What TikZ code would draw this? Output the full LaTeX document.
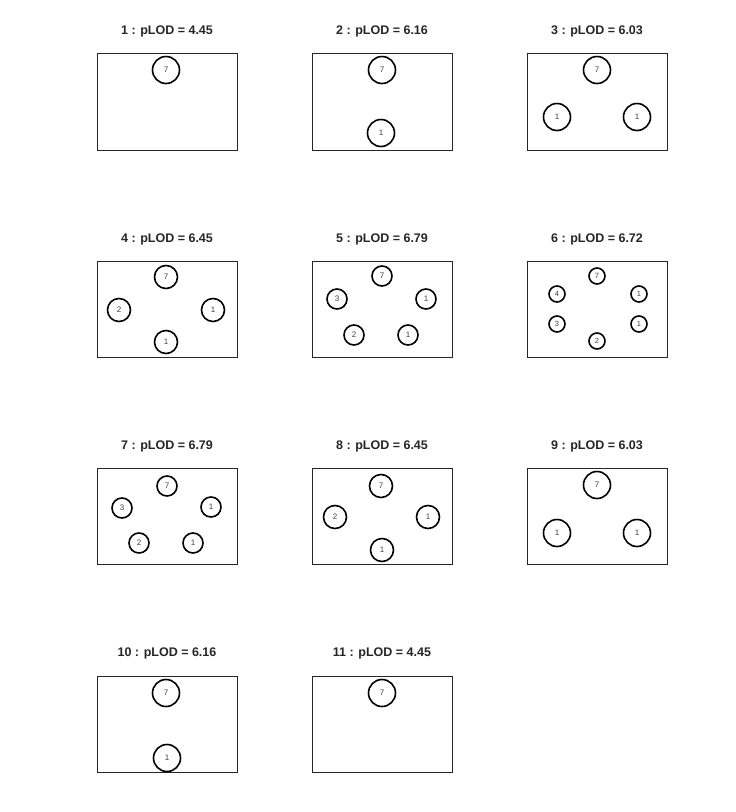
\documentclass[tikz,border=0pt]{standalone}
\usepackage{fontspec}
\setmainfont{Liberation Sans}
\begin{document}
\begin{tikzpicture}[x=1pt,y=-1pt,
  panel/.style={draw=black!85,line width=0.8pt},
  ttl/.style={font=\bfseries\fontsize{12.5}{14}\selectfont,text=black!85},
  big/.style={circle,draw=black,line width=1.6pt,minimum size=27pt,inner sep=0pt,font=\fontsize{8}{9}\selectfont,text=black!75},
  mid/.style={big,minimum size=23pt},
  sml/.style={big,minimum size=20pt},
  tin/.style={big,minimum size=16pt,font=\fontsize{7.5}{8}\selectfont}]
\useasboundingbox (0,0) rectangle (736,812);
% row 1
\node[ttl] (t1) at (167,31) {1 : pLOD = 4.45};
\draw[panel] (97,53) rectangle (237,150);
\node[big] (p1a) at (166,70) {7};
\node[ttl] (t2) at (382,31) {2 : pLOD = 6.16};
\draw[panel] (312,53) rectangle (452,150);
\node[big] (p2a) at (382,70) {7};
\node[big] (p2b) at (381,133) {1};
\node[ttl] (t3) at (597,31) {3 : pLOD = 6.03};
\draw[panel] (527,53) rectangle (667,150);
\node[big] (p3a) at (597,70) {7};
\node[big] (p3b) at (557,117) {1};
\node[big] (p3c) at (637,117) {1};
% row 2
\node[ttl] (t4) at (167,239) {4 : pLOD = 6.45};
\draw[panel] (97,261) rectangle (237,357);
\node[mid] (p4a) at (166,277) {7};
\node[mid] (p4b) at (119,310) {2};
\node[mid] (p4c) at (213,310) {1};
\node[mid] (p4d) at (166,342) {1};
\node[ttl] (t5) at (382,239) {5 : pLOD = 6.79};
\draw[panel] (312,261) rectangle (452,357);
\node[sml] (p5a) at (382,276) {7};
\node[sml] (p5b) at (337,299) {3};
\node[sml] (p5c) at (426,299) {1};
\node[sml] (p5d) at (354,335) {2};
\node[sml] (p5e) at (408,335) {1};
\node[ttl] (t6) at (597,239) {6 : pLOD = 6.72};
\draw[panel] (527,261) rectangle (667,357);
\node[tin] (p6a) at (597,276) {7};
\node[tin] (p6b) at (557,294) {4};
\node[tin] (p6c) at (639,294) {1};
\node[tin] (p6d) at (557,324) {3};
\node[tin] (p6e) at (639,324) {1};
\node[tin] (p6f) at (597,341) {2};
% row 3
\node[ttl] (t7) at (167,446) {7 : pLOD = 6.79};
\draw[panel] (97,468) rectangle (237,564);
\node[sml] (p7a) at (167,486) {7};
\node[sml] (p7b) at (122,508) {3};
\node[sml] (p7c) at (211,507) {1};
\node[sml] (p7d) at (139,543) {2};
\node[sml] (p7e) at (193,543) {1};
\node[ttl] (t8) at (382,446) {8 : pLOD = 6.45};
\draw[panel] (312,468) rectangle (452,564);
\node[mid] (p8a) at (381,486) {7};
\node[mid] (p8b) at (335,517) {2};
\node[mid] (p8c) at (428,517) {1};
\node[mid] (p8d) at (382,550) {1};
\node[ttl] (t9) at (597,446) {9 : pLOD = 6.03};
\draw[panel] (527,468) rectangle (667,564);
\node[big] (p9a) at (597,485) {7};
\node[big] (p9b) at (557,533) {1};
\node[big] (p9c) at (637,533) {1};
% row 4
\node[ttl] (t10) at (167,653) {10 : pLOD = 6.16};
\draw[panel] (97,676) rectangle (237,772);
\node[big] (p10a) at (166,693) {7};
\node[big] (p10b) at (167,758) {1};
\node[ttl] (t11) at (382,653) {11 : pLOD = 4.45};
\draw[panel] (312,676) rectangle (452,772);
\node[big] (p11a) at (382,693) {7};
\end{tikzpicture}
\end{document}
